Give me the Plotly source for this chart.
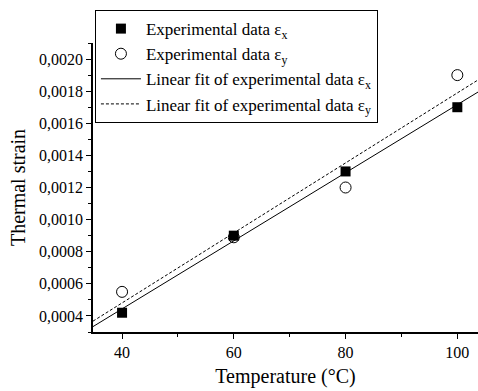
import numpy as np
import plotly.graph_objects as go

temps = [40, 60, 80, 100]
strain_x = [0.00042, 0.00090, 0.00130, 0.00170]
strain_y = [0.00055, 0.00089, 0.00120, 0.00190]
fit_range = [34.8, 103.7]

px_ = np.polyfit(temps, strain_x, 1)
py_ = np.polyfit(temps, strain_y, 1)
fx = np.array(fit_range)

font = "Liberation Serif, Times New Roman, serif"
fig = go.Figure()
fig.add_trace(go.Scatter(x=temps, y=strain_x, mode="markers",
                         marker=dict(symbol="square", size=10, color="black"),
                         name="Experimental data ε<sub>x</sub>"))
fig.add_trace(go.Scatter(x=temps, y=strain_y, mode="markers",
                         marker=dict(symbol="circle-open", size=11, color="black", line=dict(width=1)),
                         name="Experimental data ε<sub>y</sub>"))
fig.add_trace(go.Scatter(x=fx, y=np.polyval(px_, fx), mode="lines",
                         line=dict(color="black", width=1),
                         name="Linear fit of experimental data ε<sub>x</sub>"))
fig.add_trace(go.Scatter(x=fx, y=np.polyval(py_, fx), mode="lines",
                         line=dict(color="black", width=1, dash="3px,2px"),
                         name="Linear fit of experimental data ε<sub>y</sub>"))

axis_common = dict(showline=True, linecolor="black", linewidth=1.5, ticks="outside",
                   ticklen=5, tickwidth=1, tickcolor="black", showgrid=False, zeroline=False,
                   automargin=False,
                   tickfont=dict(family=font, size=16, color="black"),
                   title_font=dict(family=font, size=20, color="black"))
fig.update_layout(
    width=478, height=391,
    margin=dict(l=93, r=0, t=43, b=59),
    paper_bgcolor="white", plot_bgcolor="white",
    separators=",.",
    font=dict(family=font, color="black"),
    xaxis=dict(range=fit_range, tickvals=[40, 60, 80, 100],
               minor=dict(ticks="outside", ticklen=3, dtick=10, tick0=0, tickcolor="black"),
               title=dict(text="Temperature (°C)", standoff=9), **axis_common),
    yaxis=dict(range=[0.0003, 0.0021], tickformat=".4f", dtick=0.0002, tick0=0,
               minor=dict(ticks="outside", ticklen=3, dtick=0.0001, tick0=0, tickcolor="black"),
               title=dict(text="Thermal strain", standoff=8), **axis_common),
    legend=dict(x=0.005, y=1.114, xanchor="left", yanchor="top",
                bordercolor="black", borderwidth=1, bgcolor="white",
                font=dict(family=font, size=17, color="black"),
                itemwidth=40, tracegroupgap=0, entrywidth=245),
    showlegend=True,
)
fig.write_html("out.html", config={"displayModeBar": False},
               post_script="document.body.style.margin='0';document.body.style.padding='0';")
